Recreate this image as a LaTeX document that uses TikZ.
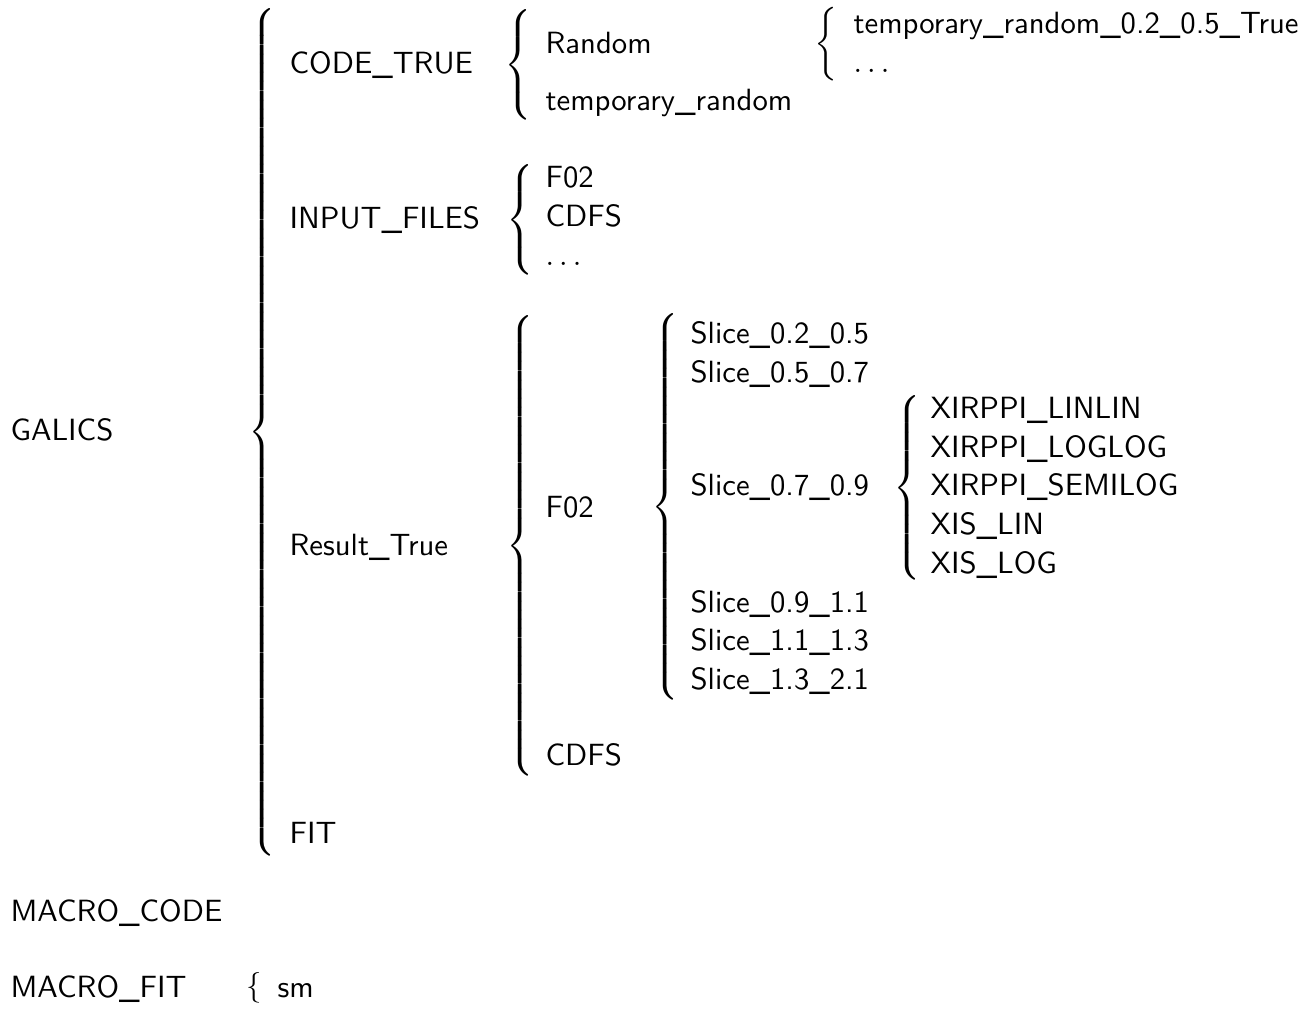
\documentclass[tikz,border=0pt]{standalone}
\usepackage{fontspec}
\usepackage{amsmath}
\usepackage{tikz}

% left brace of a given total height, tip at the node's west anchor
\newcommand{\lbrc}[1]{$\delimiterfactor=1000\delimitershortfall=0pt\left\{\vcenter{\hrule height #1 width 0pt}\right.$}

\begin{document}
\begin{tikzpicture}[x=0.3257pt, y=-0.3257pt,
  every node/.style={inner sep=0pt, font=\sffamily},
  lbl/.style={anchor=base west},
  brc/.style={anchor=west}]
  \useasboundingbox (0,0) rectangle (1303,1010);
  % top level
  \node[lbl] (galics) at (10,440) {GALICS};
  \node[brc] (bGalics) at (248,432) {\lbrc{273pt}};
  \node[lbl] (codeTrue) at (289,73) {CODE\_TRUE};
  \node[lbl] (inputFiles) at (289,228) {INPUT\_FILES};
  \node[lbl] (resultTrue) at (289,555) {Result\_True};
  \node[lbl] (fit) at (289,843) {FIT};
  % CODE_TRUE
  \node[brc] (bCode) at (504,65) {\lbrc{35pt}};
  \node[lbl] (random) at (545,53) {Random};
  \node[lbl] (tmpRandom) at (545,110) {temporary\_random};
  \node[brc] (bRandom) at (814,44) {\lbrc{23pt}};
  \node[lbl] (tmpRandA) at (853,33) {temporary\_random\_0.2\_0.5\_True};
  \node[lbl] (tmpRandB) at (853,72) {$\dots$};
  % INPUT_FILES
  \node[brc] (bInput) at (506,220) {\lbrc{35pt}};
  \node[lbl] (inF02) at (545,187) {F02};
  \node[lbl] (inCdfs) at (545,226) {CDFS};
  \node[lbl] (inDots) at (545,265) {$\dots$};
  % Result_True
  \node[brc] (bResult) at (506,546) {\lbrc{148pt}};
  \node[lbl] (resF02) at (545,517) {F02};
  \node[lbl] (resCdfs) at (545,765) {CDFS};
  \node[brc] (bF02) at (651,507) {\lbrc{122pt}};
  \node[lbl] (sliceA) at (690,343) {Slice\_0.2\_0.5};
  \node[lbl] (sliceB) at (690,382) {Slice\_0.5\_0.7};
  \node[lbl] (sliceC) at (690,495) {Slice\_0.7\_0.9};
  \node[lbl] (sliceD) at (690,612) {Slice\_0.9\_1.1};
  \node[lbl] (sliceE) at (690,650) {Slice\_1.1\_1.3};
  \node[lbl] (sliceF) at (690,689) {Slice\_1.3\_2.1};
  \node[brc] (bSlice) at (893,488) {\lbrc{59pt}};
  \node[lbl] (xiLinlin) at (930,418) {XIRPPI\_LINLIN};
  \node[lbl] (xiLoglog) at (930,457) {XIRPPI\_LOGLOG};
  \node[lbl] (xiSemilog) at (930,495) {XIRPPI\_SEMILOG};
  \node[lbl] (xisLin) at (930,534) {XIS\_LIN};
  \node[lbl] (xisLog) at (930,573) {XIS\_LOG};
  % macros
  \node[lbl] (macroCode) at (10,921) {MACRO\_CODE};
  \node[lbl] (macroFit) at (10,997) {MACRO\_FIT};
  \node[brc] (bMacroFit) at (246,988) {$\{$};
  \node[lbl] (sm) at (277,997) {sm};
\end{tikzpicture}
\end{document}
